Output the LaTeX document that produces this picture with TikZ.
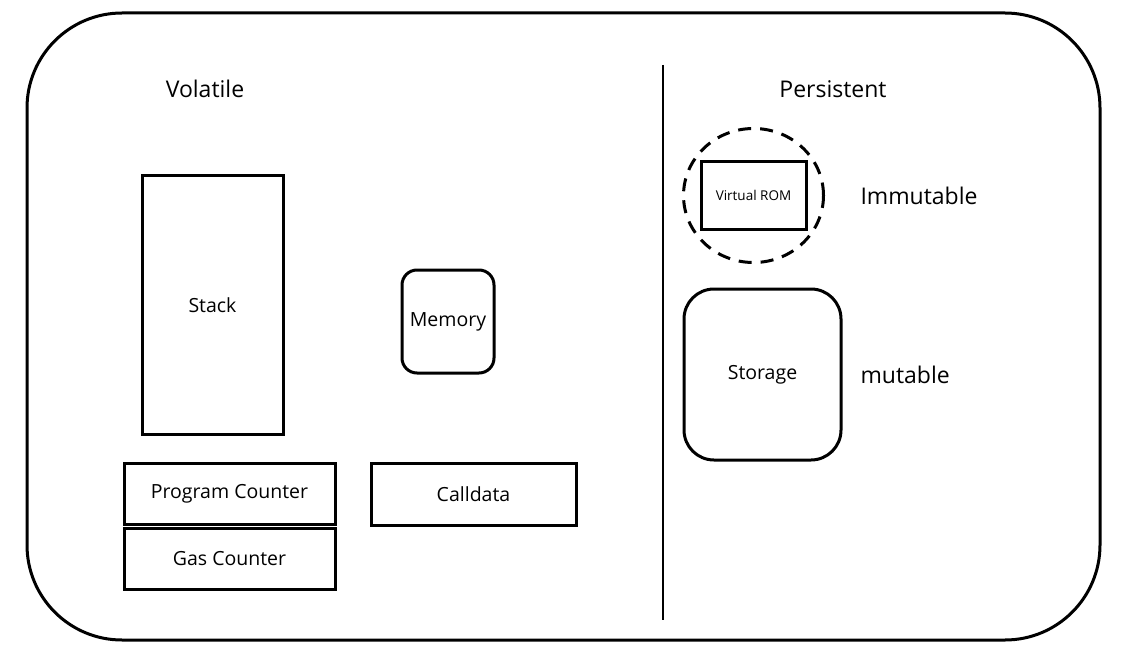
\documentclass[tikz,border=0pt]{standalone}
\usepackage{fontspec}
\setmainfont{Open Sans}
\begin{document}
\begin{tikzpicture}[x=1pt,y=-1pt,line width=3pt,
    box/.style={draw=black,inner sep=0pt,font=\fontsize{19.5}{22}\selectfont},
    lbl/.style={inner sep=0pt,font=\fontsize{23}{26}\selectfont}]
  \useasboundingbox (0,0) rectangle (1132,655);
  \draw[rounded corners=95pt] (27,13) rectangle (1100,640);
  \draw[line width=2pt] (663,65) -- (663,620);

  \node[lbl] (volatile) at (205,89) {Volatile};
  \node[lbl] (persistent) at (833,89) {Persistent};

  \node[box,minimum width=141pt,minimum height=258pt] (stack) at (212.5,305) {Stack};
  \node[box,rounded corners=15pt,minimum width=92pt,minimum height=103pt] (memory) at (448,321.5) {Memory};
  \node[box,minimum width=211pt,minimum height=61pt] (pc) at (229.5,493.5) {Program Counter};
  \node[box,minimum width=211pt,minimum height=61pt] (gas) at (229.5,558.5) {Gas Counter};
  \node[box,minimum width=205pt,minimum height=62pt] (calldata) at (473.5,494) {Calldata};

  \node[box,minimum width=105pt,minimum height=67pt,font=\fontsize{13.5}{15}\selectfont] (rom) at (753.5,195.5) {Virtual ROM};
  \draw[dash pattern=on 13pt off 9pt] (rom.center) ellipse [x radius=70pt,y radius=67pt];
  \node[box,rounded corners=30pt,minimum width=157pt,minimum height=171pt] (storage) at (762.5,374.5) {Storage};

  \node[lbl,anchor=west] (immutable) at (859,196) {Immutable};
  \node[lbl,anchor=west] (mutable) at (859,375) {mutable};
\end{tikzpicture}
\end{document}
